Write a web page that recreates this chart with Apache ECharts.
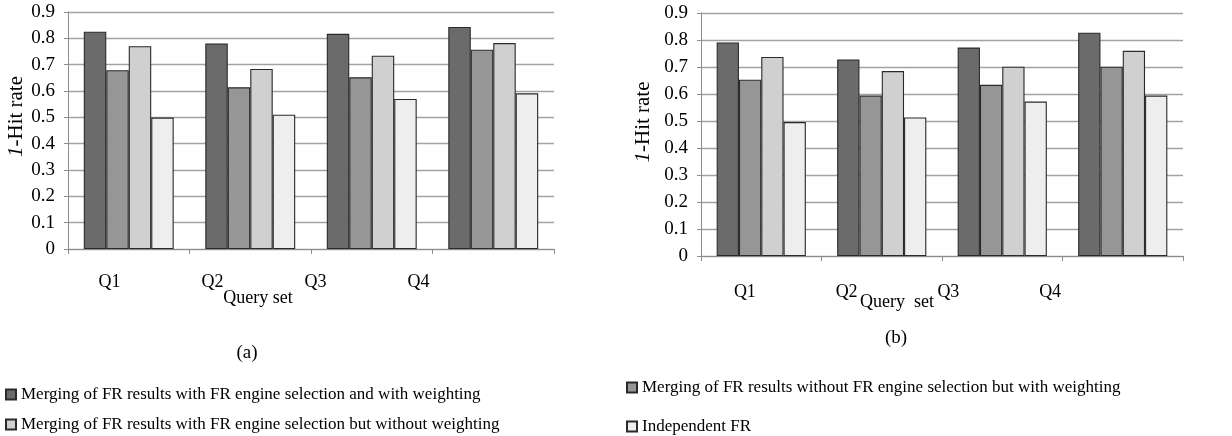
<!DOCTYPE html>
<html>
<head>
<meta charset="utf-8">
<script src="https://cdn.jsdelivr.net/npm/echarts@6/dist/echarts.min.js"></script>
<style>
html,body{margin:0;padding:0;background:#fff;}
#chart{width:1232px;height:436px;}
</style>
</head>
<body>
<div id="chart"></div>
<script>
const categories = ['Q1', 'Q2', 'Q3', 'Q4'];
const seriesNames = [
  'Merging of FR results with FR engine selection and with weighting',
  'Merging of FR results without FR engine selection but with weighting',
  'Merging of FR results with FR engine selection but without weighting',
  'Independent FR'
];
// Chart (a)
const a_withSelWeight    = [0.825, 0.780, 0.817, 0.843];
const a_noSelWeight      = [0.679, 0.614, 0.652, 0.757];
const a_withSelNoWeight  = [0.770, 0.684, 0.734, 0.782];
const a_independent      = [0.499, 0.510, 0.570, 0.591];
// Chart (b)
const b_withSelWeight    = [0.791, 0.728, 0.772, 0.827];
const b_noSelWeight      = [0.653, 0.594, 0.634, 0.701];
const b_withSelNoWeight  = [0.737, 0.685, 0.701, 0.760];
const b_independent      = [0.496, 0.513, 0.572, 0.594];
const yTicks = [0, 0.1, 0.2, 0.3, 0.4, 0.5, 0.6, 0.7, 0.8, 0.9];

const colors = ['#6b6b6b', '#969696', '#d0d0d0', '#eeeeee'];
const FONT = 'Liberation Serif';

const chart = echarts.init(document.getElementById('chart'), null, {renderer: 'canvas'});

function yAxisCfg(gridIndex, nameGap, shift) {
  return {
    type: 'value', gridIndex: gridIndex, min: yTicks[0], max: yTicks[yTicks.length - 1], interval: 0.1,
    name: '{i|1}-Hit rate', nameLocation: 'middle', nameGap: nameGap,
    nameTextStyle: {fontFamily: FONT, fontSize: 21, color: '#000', padding: [0, 0, 0, shift],
      rich: {i: {fontFamily: FONT, fontSize: 21, fontStyle: 'italic', color: '#000'}}},
    axisLine: {show: true, lineStyle: {color: '#8c8c8c', width: 1}},
    axisTick: {show: true, length: 4, lineStyle: {color: '#8c8c8c'}},
    axisLabel: {fontFamily: FONT, fontSize: 19, color: '#000', margin: 13,
      formatter: v => (Math.round(v * 10) / 10).toString()},
    splitLine: {show: true, lineStyle: {color: '#a3a3a3', width: 1.3}}
  };
}
function xAxisCfg(gridIndex) {
  return {
    type: 'category', gridIndex: gridIndex, data: categories,
    axisLine: {show: true, lineStyle: {color: '#8c8c8c', width: 1}},
    axisTick: {show: true, length: 5, lineStyle: {color: '#8c8c8c'}},
    axisLabel: {show: false}
  };
}
function labelAxisCfg(gridIndex) {
  return {
    type: 'category', gridIndex: gridIndex, data: categories,
    axisLine: {show: false}, axisTick: {show: false}, splitLine: {show: false},
    axisLabel: {fontFamily: FONT, fontSize: 18, color: '#000', margin: 0}
  };
}
function barSeries(name, data, idx, axisIdx) {
  return {
    type: 'bar', name: name, data: data, xAxisIndex: axisIdx, yAxisIndex: axisIdx,
    barGap: '0%', barCategoryGap: '26%',
    itemStyle: {color: colors[idx], borderColor: '#2a2a2a', borderWidth: 1.1},
    emphasis: {disabled: true}, animation: false
  };
}
function legendCfg(name, left, top) {
  return {
    data: [name], left: left, top: top, padding: 0, orient: 'vertical',
    itemWidth: 10, itemHeight: 10, itemGap: 5, icon: 'rect',
    textStyle: {fontFamily: FONT, fontSize: 17, color: '#000'}, selectedMode: false
  };
}

const option = {
  animation: false,
  backgroundColor: '#fff',
  grid: [
    {left: 68, right: 678, top: 12, bottom: 187},
    {left: 701, right: 49, top: 13, bottom: 180},
    {left: 58, width: 412, top: 272, height: 1},
    {left: 694, width: 407, top: 282, height: 1}
  ],
  xAxis: [xAxisCfg(0), xAxisCfg(1), labelAxisCfg(2), labelAxisCfg(3)],
  yAxis: [yAxisCfg(0, 41, 28), yAxisCfg(1, 47, 25),
    {type: 'value', gridIndex: 2, show: false},
    {type: 'value', gridIndex: 3, show: false}],
  title: [
    {text: 'Query set', left: 258, top: 289, textAlign: 'center', padding: 0,
      textStyle: {fontFamily: FONT, fontSize: 18, fontWeight: 'normal', color: '#000'}},
    {text: 'Query  set', left: 897, top: 293, textAlign: 'center', padding: 0,
      textStyle: {fontFamily: FONT, fontSize: 18, fontWeight: 'normal', color: '#000'}},
    {text: '(a)', left: 242, top: 339, textAlign: 'center',
      textStyle: {fontFamily: FONT, fontSize: 19, fontWeight: 'normal', color: '#000'}},
    {text: '(b)', left: 891, top: 324, textAlign: 'center',
      textStyle: {fontFamily: FONT, fontSize: 19, fontWeight: 'normal', color: '#000'}}
  ],
  legend: [
    legendCfg(seriesNames[0], 5, 386),
    legendCfg(seriesNames[2], 5, 416),
    legendCfg(seriesNames[1], 626, 379),
    legendCfg(seriesNames[3], 626, 418)
  ],
  series: [
    barSeries(seriesNames[0], a_withSelWeight, 0, 0),
    barSeries(seriesNames[1], a_noSelWeight, 1, 0),
    barSeries(seriesNames[2], a_withSelNoWeight, 2, 0),
    barSeries(seriesNames[3], a_independent, 3, 0),
    barSeries(seriesNames[0], b_withSelWeight, 0, 1),
    barSeries(seriesNames[1], b_noSelWeight, 1, 1),
    barSeries(seriesNames[2], b_withSelNoWeight, 2, 1),
    barSeries(seriesNames[3], b_independent, 3, 1)
  ]
};
chart.setOption(option);
</script>
</body>
</html>
